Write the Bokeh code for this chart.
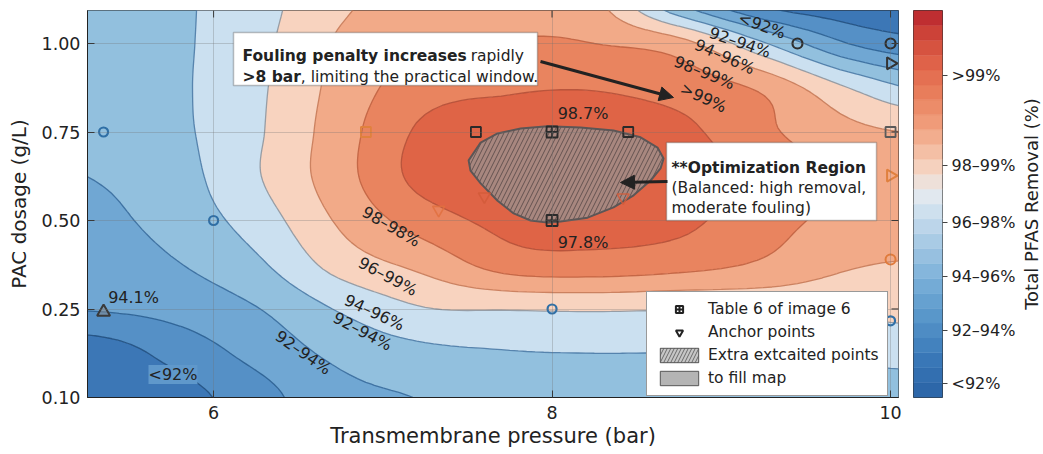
import math
import numpy as np
from bokeh.plotting import figure
from bokeh.layouts import row
from bokeh.models import (Range1d, FixedTicker, Label, Arrow, NormalHead,
                          BoxAnnotation, Legend, LegendItem)
from bokeh.core.properties import value
from bokeh.embed import file_html
from bokeh.resources import INLINE

FONT = "DejaVu Sans"
INK = "#222222"

# ---------------------------------------------------------------- data
# Response grid: transmembrane pressure (bar) x PAC dosage (g/L)
P_NODES = [5.25, 5.75, 6.25, 6.75, 7.25, 7.75, 8.25, 8.75, 9.25, 9.75, 10.25]
DOSE_NODES = [0.100, 0.175, 0.250, 0.375, 0.500, 0.625, 0.750, 0.875, 1.000, 1.125]
# Total PFAS removal (%) - one row per dosage node, one column per pressure node
REMOVAL = [
    [90.00, 90.50, 91.60, 92.70, 93.05, 93.55, 93.50, 93.50, 93.45, 93.40, 93.40],
    [90.30, 91.30, 92.30, 93.25, 93.75, 93.95, 94.00, 94.00, 94.10, 94.25, 94.45],
    [92.05, 92.30, 92.95, 94.10, 94.95, 95.05, 95.10, 95.05, 95.15, 95.20, 95.30],
    [92.35, 92.90, 93.80, 95.40, 96.30, 97.45, 97.60, 97.35, 96.85, 96.10, 95.90],
    [92.70, 93.35, 94.45, 96.15, 97.50, 98.30, 98.35, 98.25, 97.35, 96.75, 96.55],
    [93.00, 93.55, 94.90, 96.60, 98.35, 98.70, 98.75, 98.60, 97.60, 96.85, 96.60],
    [93.25, 93.75, 94.85, 96.55, 98.20, 98.40, 98.45, 98.25, 97.20, 96.30, 95.90],
    [93.35, 93.80, 94.80, 96.35, 97.60, 97.90, 97.95, 97.60, 96.80, 95.00, 93.70],
    [93.40, 93.80, 94.70, 96.15, 96.90, 97.10, 97.00, 96.40, 94.10, 92.00, 91.20],
    [93.40, 93.80, 94.60, 95.80, 96.50, 96.60, 96.20, 92.80, 90.60, 90.20, 90.10],
]

P_TICKS = [6, 8, 10]
DOSE_TICKS = [0.10, 0.25, 0.50, 0.75, 1.00]
DOSE_TICK_LABELS = ["0.10", "0.25", "0.50", "0.75", "1.00"]

LEVELS = [85, 91, 92, 93, 94, 95, 96, 97, 98, 101]

# Experimental points
CIRC_P = [5.35, 6.0, 8.0, 10.0]
CIRC_DOSE = [0.75, 0.50, 0.25, 0.23]
DARK_CIRC_P = [9.45, 10.0]
DARK_CIRC_DOSE = [1.00, 1.00]
ORANGE_CIRC_P = [10.0]
ORANGE_CIRC_DOSE = [0.39]
SQ_P = [7.55, 8.45, 10.0, 6.9]
SQ_DOSE = [0.75, 0.75, 0.75, 0.75]
SQ_COLOR = ["#2a2a2a", "#2a2a2a", "#5a5a5a", "#e0813e"]
TABLE_P = [8.0, 8.0]
TABLE_DOSE = [0.75, 0.50]
ANCHOR_P = [7.33, 7.60, 8.42]
ANCHOR_DOSE = [0.530, 0.568, 0.565]
EDGE_P = [10.0, 10.0]
EDGE_DOSE = [0.944, 0.627]
EDGE_COLOR = ["#333333", "#e0803e"]
REF_P = [5.35]
REF_DOSE = [0.245]

# Stated removal values at selected points
VAL_P = [5.35, 8.0, 8.0]
VAL_DOSE = [0.245, 0.75, 0.50]
VAL_REMOVAL = [94.1, 98.7, 97.8]
VAL_DX = [30, 31, 31]
VAL_DY = [-14, -19, 22]

# Optimization region outline
BLOB_P = [7.507, 7.578, 7.678, 7.814, 7.973, 8.168, 8.363, 8.523, 8.623, 8.659, 8.641,
          8.582, 8.482, 8.363, 8.210, 8.050, 7.973, 7.873, 7.773, 7.678, 7.578, 7.518]
BLOB_DOSE = [0.670, 0.720, 0.746, 0.760, 0.766, 0.763, 0.754, 0.735, 0.706, 0.675, 0.647,
             0.613, 0.571, 0.537, 0.508, 0.497, 0.494, 0.500, 0.520, 0.556, 0.605, 0.641]

# Contour labels
CL_TEXT = ["<92%", "92–94%", "94–96%", "98–99%", ">99%", "98–98%", "96–99%", "94–96%",
           "92–94%", "92–94%"]
CL_P = [9.24, 9.11, 9.02, 8.90, 8.895, 7.05, 7.03, 6.95, 6.88, 6.53]
CL_DOSE = [1.051, 1.003, 0.963, 0.918, 0.847, 0.483, 0.342, 0.244, 0.212, 0.176]
CL_ANGLE = [-20, -19, -24, -22, -25, -30, -28, -25, -28, -35]

# Colour bar
CBAR_LABELS = ["<92%", "92–94%", "94–96%", "96–98%", "98–99%", ">99%"]
CBAR_STEPS = 26
CBAR_TICK_AT = [0.94, 4.5, 8.13, 11.76, 15.59, 21.63]
CBAR_TITLE = "Total PFAS Removal (%)"

# ---------------------------------------------------------------- styling
BAND_COLORS = ["#3c77b6", "#5590c6", "#70a7d3", "#92c0de", "#cbe0f0",
               "#f8d3bf", "#f2aa88", "#e9845f", "#df6446"]
LINE_COLORS = ["#1f4e7e", "#1f4e7e", "#285d90", "#35699b", "#4a7aa6",
               "#8e969e", "#c77a58", "#c0603f", "#b44f36", "#b44f36"]
CBAR_ANCHORS = [(0.00, "#2a63a5"), (0.10, "#3a78b8"), (0.20, "#5594c8"), (0.30, "#78aed8"),
                (0.40, "#a7cae5"), (0.47, "#c9ddee"), (0.53, "#e6ebef"), (0.58, "#f5d8c8"),
                (0.64, "#f4bda1"), (0.70, "#f1a07e"), (0.78, "#e9805d"), (0.86, "#e0644a"),
                (0.93, "#d0493a"), (1.00, "#b8242e")]

X_START, X_END = 5.255, 10.047
Y_START, Y_END = 0.0, 4.373


def dose_axis(d):
    """Map PAC dosage to the evenly spaced dosage axis (one unit per tick)."""
    d = np.asarray(d, dtype=float)
    t = np.asarray(DOSE_TICKS)
    k = np.arange(len(t), dtype=float)
    out = np.interp(d, t, k)
    out = np.where(d < t[0], (d - t[0]) / (t[1] - t[0]), out)
    out = np.where(d > t[-1], k[-1] + (d - t[-1]) / (t[-1] - t[-2]), out)
    return out


def cubic_upsample(a, n_out, axis):
    a = np.asarray(a, dtype=float)
    n = a.shape[axis]
    t = np.linspace(0, n - 1, n_out)
    i = np.clip(np.floor(t).astype(int), 0, n - 2)
    f = t - i

    def take(j):
        return np.take(a, np.clip(j, 0, n - 1), axis=axis)

    p0, p1, p2, p3 = take(i - 1), take(i), take(i + 1), take(i + 2)
    shape = [1] * a.ndim
    shape[axis] = n_out
    f = f.reshape(shape)
    return 0.5 * (2 * p1 + (p2 - p0) * f + (2 * p0 - 5 * p1 + 4 * p2 - p3) * f ** 2
                  + (3 * p1 - p0 - 3 * p2 + p3) * f ** 3)


def hex_to_rgb(h):
    return np.array([int(h[i:i + 2], 16) for i in (1, 3, 5)], dtype=float)


def ramp(pos):
    xs = [a for a, _ in CBAR_ANCHORS]
    cs = np.array([hex_to_rgb(c) for _, c in CBAR_ANCHORS])
    rgb = [np.interp(pos, xs, cs[:, j]) for j in range(3)]
    return "#%02x%02x%02x" % tuple(int(round(v)) for v in rgb)


BOLD_EM = {"F": .575, "o": .687, "u": .712, "l": .343, "i": .343, "n": .712, "g": .716,
           " ": .348, "p": .716, "e": .678, "a": .675, "t": .478, "y": .652, "c": .593,
           "r": .493, "s": .595, ">": .838, "8": .696, "b": .716}


def bold_width(s, size):
    return sum(BOLD_EM[c] for c in s) * size


# ---------------------------------------------------------------- main panel
p = figure(frame_width=811, frame_height=387,
           x_range=Range1d(X_START, X_END), y_range=Range1d(Y_START, Y_END),
           toolbar_location=None, output_backend="svg",
           min_border_left=87, min_border_right=7, min_border_top=10, min_border_bottom=57,
           background_fill_color="white", border_fill_color="white")

nx = (len(P_NODES) - 1) * 10 + 1
ny = (len(DOSE_NODES) - 1) * 10 + 1
z_fine = cubic_upsample(cubic_upsample(REMOVAL, nx, 1), ny, 0)
x_fine = np.linspace(P_NODES[0], P_NODES[-1], nx)
w_nodes = dose_axis(DOSE_NODES)
y_fine = np.linspace(w_nodes[0], w_nodes[-1], ny)
X, Y = np.meshgrid(x_fine, y_fine)
p.contour(X, Y, z_fine, LEVELS, fill_color=BAND_COLORS, line_color=LINE_COLORS,
          line_width=1.3, line_alpha=0.9)

# axes
dose_pos = [float(v) for v in dose_axis(DOSE_TICKS)]
p.xaxis.ticker = FixedTicker(ticks=P_TICKS)
p.yaxis.ticker = FixedTicker(ticks=dose_pos)
p.yaxis.major_label_overrides = {k: lab for k, lab in zip(dose_pos, DOSE_TICK_LABELS)}
p.xaxis.axis_label = "Transmembrane pressure (bar)"
p.yaxis.axis_label = "PAC dosage (g/L)"
for ax in (p.xaxis[0], p.yaxis[0]):
    ax.major_tick_in = 7
    ax.major_tick_out = 0
    ax.minor_tick_line_color = None
    ax.axis_line_color = INK
    ax.major_tick_line_color = INK
    ax.major_label_text_font = FONT
    ax.major_label_text_font_size = "17.5px"
    ax.major_label_text_color = INK
    ax.axis_label_text_font = FONT
    ax.axis_label_text_font_style = "normal"
    ax.axis_label_text_color = INK
p.xaxis.major_label_standoff = 8
p.xaxis.axis_label_standoff = 2
p.xaxis.axis_label_text_font_size = "21px"
p.yaxis.major_label_standoff = 7
p.yaxis.axis_label_standoff = 8
p.yaxis.axis_label_text_font_size = "20px"

# inward ticks mirrored on the top and right edges
p.ray(x=P_TICKS, y=[Y_END] * len(P_TICKS), length=7, angle=-90, angle_units="deg",
      length_units="screen", line_color=INK, line_width=1)
p.ray(x=[X_END] * len(dose_pos), y=dose_pos, length=7, angle=180, angle_units="deg",
      length_units="screen", line_color=INK, line_width=1)

p.grid.level = "guide"
p.grid.grid_line_color = "#6f6f6f"
p.grid.grid_line_alpha = 0.3
p.outline_line_color = INK
p.outline_line_width = 1

# optimization region
p.patch(BLOB_P, dose_axis(BLOB_DOSE), fill_color="#a8877f", fill_alpha=1.0,
        hatch_pattern="/", hatch_color="#4e4040", hatch_alpha=0.75, hatch_scale=9,
        hatch_weight=1, line_color="#5c5656", line_width=2)

# experimental points
p.scatter(CIRC_P, dose_axis(CIRC_DOSE), marker="circle", size=9, fill_color=None,
          line_color="#2f6fa6", line_width=2.2)
p.scatter(DARK_CIRC_P, dose_axis(DARK_CIRC_DOSE), marker="circle", size=10, fill_color=None,
          line_color="#2e2e2e", line_width=2.2)
p.scatter(ORANGE_CIRC_P, dose_axis(ORANGE_CIRC_DOSE), marker="circle", size=10, fill_color=None,
          line_color="#e07b3c", line_width=2)
p.scatter(SQ_P, dose_axis(SQ_DOSE), marker="square", size=10, fill_color=None,
          line_color=SQ_COLOR, line_width=1.8)
p.scatter(TABLE_P, dose_axis(TABLE_DOSE), marker="square_cross", size=11, fill_color=None,
          line_color="#2a2a2a", line_width=1.8)
p.scatter(ANCHOR_P, dose_axis(ANCHOR_DOSE), marker="inverted_triangle", size=12,
          fill_color=None, line_color=["#e0703f", "#d25a3a", "#d25a3a"], line_width=1.6,
          line_alpha=0.85)
p.scatter(EDGE_P, dose_axis(EDGE_DOSE), marker="triangle", angle=-math.pi / 2, size=12,
          fill_color=None, line_color=EDGE_COLOR, line_width=2)
p.scatter(REF_P, dose_axis(REF_DOSE), marker="triangle", size=13, fill_color="#8a8a8a",
          fill_alpha=0.5, line_color="#3a3a3a", line_width=2)

# values at points
p.text(VAL_P, dose_axis(VAL_DOSE), text=["%.1f%%" % v for v in VAL_REMOVAL],
       x_offset=VAL_DX, y_offset=VAL_DY, text_font=value(FONT), text_font_size="16px",
       text_color=INK, text_align="center", text_baseline="middle")

# contour labels
p.text(CL_P, dose_axis(CL_DOSE), text=CL_TEXT, angle=CL_ANGLE, angle_units="deg",
       text_font=value(FONT), text_font_size="16px", text_color=INK,
       text_align="center", text_baseline="middle")
p.add_layout(Label(x=5.76, y=float(dose_axis(0.139)), text="<92%", text_font=FONT,
                   text_font_size="16px", text_color=INK, text_align="center",
                   text_baseline="middle", background_fill_color="#5f98cb",
                   background_fill_alpha=1.0))

# legend (proxy glyphs outside the visible range)
r_tab = p.scatter([-10], [-10], marker="square_cross", size=12, fill_color=None,
                  line_color=INK, line_width=2)
r_anc = p.scatter([-10], [-10], marker="inverted_triangle", size=13, fill_color=None,
                  line_color=INK, line_width=2)
r_hat = p.quad(left=[-10], right=[-9], bottom=[-10], top=[-9], fill_color="#c6c6c6",
               hatch_pattern="/", hatch_color="#6a6a6a", hatch_scale=7, hatch_weight=1,
               line_color="#555555")
r_fil = p.quad(left=[-10], right=[-9], bottom=[-10], top=[-9], fill_color="#b4b4b4",
               line_color="#555555")
legend = Legend(items=[LegendItem(label="Table 6 of image 6", renderers=[r_tab]),
                       LegendItem(label="Anchor points", renderers=[r_anc]),
                       LegendItem(label="Extra extcaited points", renderers=[r_hat]),
                       LegendItem(label="to fill map", renderers=[r_fil])],
                location=(559, 1), margin=0, padding=8, spacing=5,
                glyph_width=48, glyph_height=18, label_height=18, label_standoff=5,
                label_text_font=FONT, label_text_font_size="15.5px", label_text_color=INK,
                border_line_color="#333333", border_line_width=1.2,
                background_fill_color="white", background_fill_alpha=1.0)
p.add_layout(legend)

# callout boxes
ANN = 15.5
p.add_layout(BoxAnnotation(left=146, right=450, bottom=312, top=365, left_units="screen",
                           right_units="screen", bottom_units="screen", top_units="screen",
                           fill_color="white", fill_alpha=1.0, line_color="#333333",
                           line_width=1.5))
p.add_layout(BoxAnnotation(left=579, right=789, bottom=177, top=255, left_units="screen",
                           right_units="screen", bottom_units="screen", top_units="screen",
                           fill_color="white", fill_alpha=1.0, line_color="#333333",
                           line_width=1.5))


def ann(x, y, text, bold=False):
    p.add_layout(Label(x=x, y=y, x_units="screen", y_units="screen", text=text,
                       text_font=FONT, text_font_size="%.1fpx" % ANN, text_color=INK,
                       text_font_style="bold" if bold else "normal",
                       text_align="left", text_baseline="alphabetic"))


x0 = 155
ann(x0, 342, "Fouling penalty increases", bold=True)
ann(x0 + bold_width("Fouling penalty increases", ANN) + 0.318 * ANN, 342, "rapidly")
ann(x0, 321, ">8 bar", bold=True)
ann(x0 + bold_width(">8 bar", ANN), 321, ", limiting the practical window.")
ann(584, 230, "**Optimization Region", bold=True)
ann(584, 210, "(Balanced: high removal,")
ann(584, 190, "moderate fouling)")

p.add_layout(Arrow(end=NormalHead(size=14, fill_color=INK, line_color=INK),
                   x_start=453, y_start=336, x_end=586, y_end=300,
                   start_units="screen", end_units="screen", line_width=3, line_color=INK))
p.add_layout(Arrow(end=NormalHead(size=14, fill_color=INK, line_color=INK),
                   x_start=580, y_start=216, x_end=533, y_end=215,
                   start_units="screen", end_units="screen", line_width=3, line_color=INK))

# ---------------------------------------------------------------- colour bar
cb = figure(frame_width=29, frame_height=387, x_range=Range1d(0, 1),
            y_range=Range1d(0, CBAR_STEPS), toolbar_location=None, output_backend="svg",
            y_axis_location="right", min_border_left=8, min_border_right=75,
            min_border_top=10, min_border_bottom=57,
            background_fill_color="white", border_fill_color="white")
steps = np.arange(CBAR_STEPS)
cb_colors = [ramp((i + 0.5) / CBAR_STEPS) for i in steps]
cb.quad(left=0, right=1, bottom=steps, top=steps + 1, fill_color=cb_colors,
        line_color=cb_colors, line_width=0.5)
cb.xaxis.visible = False
cb.grid.visible = False
cb.outline_line_color = "#333333"
cax = cb.yaxis[0]
cax.ticker = FixedTicker(ticks=CBAR_TICK_AT)
cax.major_label_overrides = {t: lab for t, lab in zip(CBAR_TICK_AT, CBAR_LABELS)}
cax.major_tick_out = 5
cax.major_tick_in = 0
cax.minor_tick_line_color = None
cax.axis_line_color = None
cax.major_tick_line_color = "#444444"
cax.major_label_text_font = FONT
cax.major_label_text_font_size = "16px"
cax.major_label_text_color = INK
cax.major_label_standoff = 4

# colour-bar title, drawn in its own narrow strip so it reads bottom-to-top
ttl = figure(frame_width=26, frame_height=387, x_range=Range1d(0, 1), y_range=Range1d(0, 1),
             toolbar_location=None, output_backend="svg", min_border_left=0,
             min_border_right=0, min_border_top=10, min_border_bottom=57,
             background_fill_color="white", border_fill_color="white")
ttl.axis.visible = False
ttl.grid.visible = False
ttl.outline_line_color = None
ttl.text([0.5], [0.5], text=[CBAR_TITLE], angle=90, angle_units="deg",
         text_font=value(FONT), text_font_size="18px", text_color=INK,
         text_align="center", text_baseline="middle")

layout = row(p, cb, ttl)
open("out.html", "w").write(file_html(layout, INLINE))
